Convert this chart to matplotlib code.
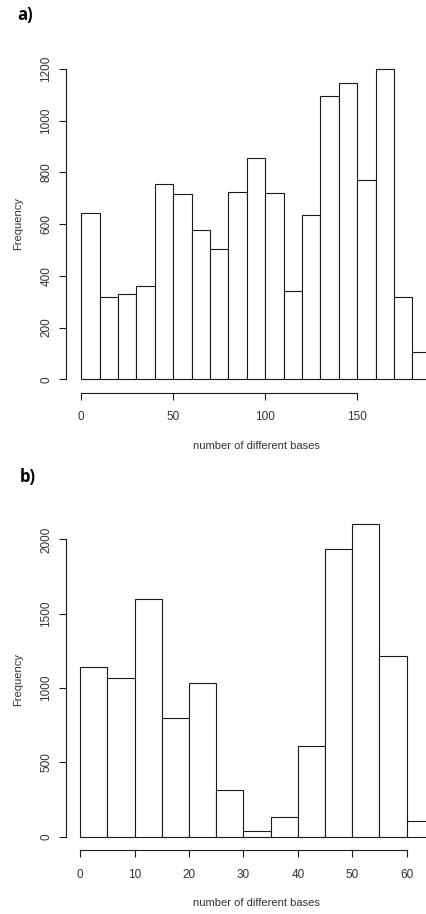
#Two R-style histograms of the number of different bases

import matplotlib
matplotlib.use('Agg')
import matplotlib.pyplot as plt

plt.rcParams['font.family'] = ['Liberation Sans', 'DejaVu Sans']

# a) bins of width 10
binsA = [0, 10, 20, 30, 40, 50, 60, 70, 80, 90, 100, 110, 120, 130, 140, 150, 160, 170, 180]
countsA = [642, 317, 329, 361, 755, 716, 577, 503, 724, 855, 720, 341, 635, 1096, 1146, 770, 1200, 317, 107]
yticksA = [0, 200, 400, 600, 800, 1000, 1200]
xticksA = [0, 50, 100, 150]

# b) bins of width 5
binsB = [0, 5, 10, 15, 20, 25, 30, 35, 40, 45, 50, 55, 60]
countsB = [1139, 1065, 1601, 800, 1034, 316, 36, 130, 612, 1937, 2105, 1215, 103]
yticksB = [0, 500, 1000, 1500, 2000]
xticksB = [0, 10, 20, 30, 40, 50, 60]

W, H = 427, 914
fig = plt.figure(figsize=(W/100, H/100), dpi=100)

textColor = '#333333'
lineColor = '#1a1a1a'


def makeHist(rect, bins, counts, width, xlim, ylim, xticks, yticks):

    """
        Draws one histogram in R base graphics style at rect (pixels: left, zero line y, top y)
    """

    left, zeroY, topY = rect
    ax = fig.add_axes([left/W, 1-zeroY/H, 1-left/W, (zeroY-topY)/H])
    bars = ax.bar(bins, counts, width=width, align='edge', facecolor='white',
                  edgecolor=lineColor, linewidth=0.8)
    for b in bars:
        b.set_clip_on(False)
    ax.set_xlim(*xlim)
    ax.set_ylim(*ylim)

    for side in ['top', 'right']:
        ax.spines[side].set_visible(False)
    ax.spines['left'].set_bounds(yticks[0], yticks[-1])
    ax.spines['bottom'].set_bounds(xticks[0], xticks[-1])
    ax.spines['bottom'].set_position(('outward', 9.6))
    for side in ['left', 'bottom']:
        ax.spines[side].set_color(lineColor)
        ax.spines[side].set_linewidth(0.8)

    ax.set_xticks(xticks)
    ax.set_yticks(yticks)
    ax.tick_params(axis='both', direction='out', length=4.8, width=0.8,
                   color=lineColor, labelcolor=textColor, labelsize=8.5)
    ax.tick_params(axis='x', pad=8.5)
    ax.tick_params(axis='y', pad=5, labelrotation=90)
    for lab in ax.get_yticklabels():
        lab.set_va('center')
    return ax


makeHist((66, 379.3, 60), binsA, countsA, 10, (-8.3, 187.9), (0, 1235), xticksA, yticksA)
makeHist((65.7, 836.7, 515), binsB, countsB, 5, (-2.68, 63.74), (0, 2164), xticksB, yticksB)

fig.text(256/W, 1-446/H, 'number of different bases', ha='center', va='center', fontsize=8, color=textColor)
fig.text(256/W, 1-903/H, 'number of different bases', ha='center', va='center', fontsize=8, color=textColor)
fig.text(18.5/W, 1-224/H, 'Frequency', ha='center', va='center', rotation=90, fontsize=8, color=textColor)
fig.text(18.5/W, 1-679/H, 'Frequency', ha='center', va='center', rotation=90, fontsize=8, color=textColor)

fig.text(17/W, 1-15/H, 'a)', ha='left', va='center', fontsize=12, fontweight='bold',
         family=['Open Sans', 'DejaVu Sans'])
fig.text(20/W, 1-477/H, 'b)', ha='left', va='center', fontsize=12, fontweight='bold',
         family=['Open Sans', 'DejaVu Sans'])

fig.savefig('out.png', dpi=100)
